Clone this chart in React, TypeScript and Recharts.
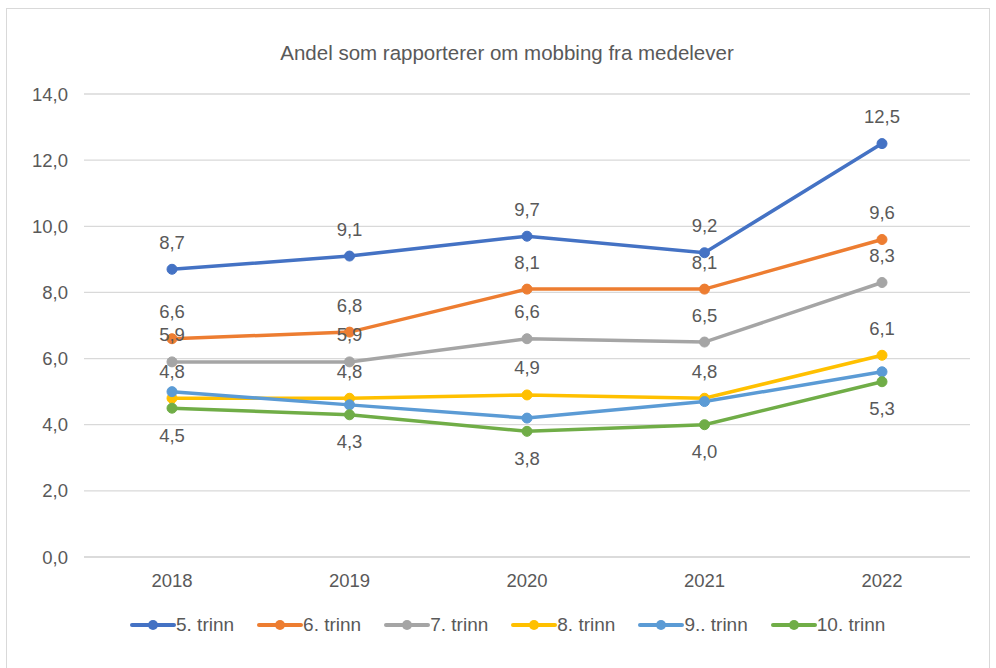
import React from "react";
import { LineChart, Line, XAxis, YAxis, CartesianGrid, LabelList } from "recharts";

const years = ["2018", "2019", "2020", "2021", "2022"];
const trinn5 = [8.7, 9.1, 9.7, 9.2, 12.5];
const trinn6 = [6.6, 6.8, 8.1, 8.1, 9.6];
const trinn7 = [5.9, 5.9, 6.6, 6.5, 8.3];
const trinn8 = [4.8, 4.8, 4.9, 4.8, 6.1];
const trinn9 = [5.0, 4.6, 4.2, 4.7, 5.6];
const trinn10 = [4.5, 4.3, 3.8, 4.0, 5.3];
const yTicks = [0, 2, 4, 6, 8, 10, 12, 14];

const series = [
  { key: "t5", name: "5. trinn", values: trinn5, color: "#4472C4", label: "above" },
  { key: "t6", name: "6. trinn", values: trinn6, color: "#ED7D31", label: "above" },
  { key: "t7", name: "7. trinn", values: trinn7, color: "#A5A5A5", label: "above" },
  { key: "t8", name: "8. trinn", values: trinn8, color: "#FFC000", label: "above" },
  { key: "t9", name: "9.. trinn", values: trinn9, color: "#5B9BD5", label: "none" },
  { key: "t10", name: "10. trinn", values: trinn10, color: "#70AD47", label: "below" },
];

const data = years.map((year, i) => {
  const row: Record<string, string | number> = { year };
  series.forEach((s) => {
    row[s.key] = s.values[i];
  });
  return row;
});

const FONT = "'Liberation Sans', Arial, sans-serif";
const TEXT = "#595959";
const FS = 18.5;

const fmt = (v: number) => v.toFixed(1).replace(".", ",");

const makeLabel = (pos: string) => (props: any) => {
  const { x, y, value } = props;
  const dy = pos === "above" ? -27 : 27;
  return (
    <text
      x={x}
      y={y + dy}
      textAnchor="middle"
      dominantBaseline="central"
      fill={TEXT}
      fontSize={FS}
      fontFamily={FONT}
    >
      {fmt(Number(value))}
    </text>
  );
};

export default function App() {
  return (
    <div
      style={{
        position: "absolute",
        left: 0,
        top: 0,
        width: 996,
        height: 668,
        background: "#fff",
        fontFamily: FONT,
        overflow: "hidden",
      }}
    >
      <div
        style={{
          position: "absolute",
          left: 6,
          top: 8,
          width: 984,
          height: 680,
          border: "1px solid #d9d9d9",
          boxSizing: "border-box",
        }}
      />
      <div
        style={{
          position: "absolute",
          top: 41,
          left: 0,
          width: 1014,
          textAlign: "center",
          fontSize: 20.5,
          color: TEXT,
        }}
      >
        Andel som rapporterer om mobbing fra medelever
      </div>
      <div style={{ position: "absolute", left: 0, top: 0 }}>
        <LineChart
          width={996}
          height={668}
          data={data}
          margin={{ top: 94, right: 26, left: 24, bottom: 81 }}
        >
          <CartesianGrid vertical={false} stroke="#d9d9d9" strokeWidth={1.3} />
          <XAxis
            dataKey="year"
            axisLine={{ stroke: "#d9d9d9", strokeWidth: 1.3 }}
            tickLine={false}
            tickMargin={11}
            height={30}
            padding={{ left: 88, right: 88 }}
            tick={{ fill: TEXT, fontSize: FS, fontFamily: FONT }}
          />
          <YAxis
            domain={[0, 14]}
            ticks={yTicks}
            width={60}
            axisLine={false}
            tickLine={false}
            tickMargin={10}
            tickFormatter={(v: number) => fmt(v)}
            tick={{ fill: TEXT, fontSize: FS, fontFamily: FONT }}
          />
          {series.map((s) => (
            <Line
              key={s.key}
              dataKey={s.key}
              name={s.name}
              type="linear"
              stroke={s.color}
              strokeWidth={3.5}
              dot={{ r: 5, fill: s.color, stroke: s.color, strokeWidth: 1 }}
              isAnimationActive={false}
            >
              {s.label !== "none" && (
                <LabelList dataKey={s.key} content={makeLabel(s.label)} />
              )}
            </Line>
          ))}
        </LineChart>
      </div>
      <div
        style={{
          position: "absolute",
          top: 614,
          left: 130,
          display: "flex",
          gap: 23,
          fontSize: 19,
          color: TEXT,
          lineHeight: "22px",
        }}
      >
        {series.map((s) => (
          <div key={s.key} style={{ display: "flex", alignItems: "center" }}>
            <svg width={46} height={22}>
              <line x1={2} y1={11} x2={44} y2={11} stroke={s.color} strokeWidth={4} strokeLinecap="round" />
              <circle cx={23} cy={11} r={5} fill={s.color} />
            </svg>
            <span>{s.name}</span>
          </div>
        ))}
      </div>
    </div>
  );
}
